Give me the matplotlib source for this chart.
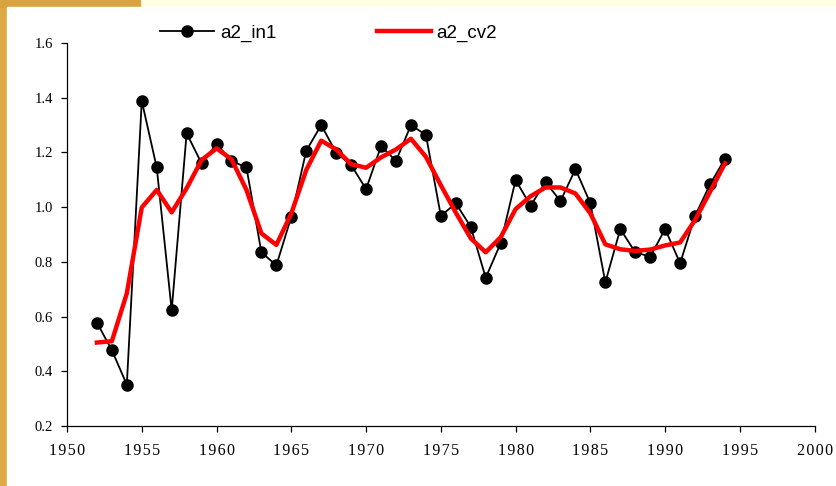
import matplotlib.pyplot as plt
from matplotlib.patches import Rectangle
from matplotlib.ticker import FormatStrFormatter, FuncFormatter, MultipleLocator

years = list(range(1952, 1995))

a2_in1 = [0.578, 0.477, 0.351, 1.388, 1.145, 0.623, 1.270, 1.160, 1.231, 1.169,
          1.145, 0.835, 0.787, 0.965, 1.206, 1.300, 1.199, 1.154, 1.066, 1.223,
          1.169, 1.300, 1.264, 0.968, 1.014, 0.928, 0.742, 0.868, 1.099, 1.005,
          1.092, 1.022, 1.139, 1.014, 0.725, 0.920, 0.835, 0.819, 0.920, 0.795,
          0.968, 1.083, 1.177]

a2_cv2 = [0.505, 0.510, 0.685, 0.999, 1.063, 0.981, 1.069, 1.172, 1.215, 1.175,
          1.063, 0.904, 0.862, 0.977, 1.136, 1.243, 1.211, 1.157, 1.144, 1.182,
          1.211, 1.250, 1.184, 1.080, 0.980, 0.886, 0.835, 0.890, 0.993, 1.040,
          1.072, 1.072, 1.050, 0.977, 0.864, 0.846, 0.840, 0.845, 0.860, 0.871,
          0.953, 1.056, 1.160]

W, H = 837, 486
fig = plt.figure(figsize=(W / 100, H / 100), dpi=100, facecolor='#fffde3')

# background: gold strip on the left and top-left, white panel
fig.patches.append(Rectangle((0, 0), 7 / W, 1, transform=fig.transFigure,
                             color='#dcaa45', zorder=-3))
fig.patches.append(Rectangle((0, 1 - 7 / H), 140 / W, 7 / H, transform=fig.transFigure,
                             color='#d9a440', zorder=-3))
fig.patches.append(Rectangle((7 / W, 0), 1 - 7 / W, 1 - 7 / H, transform=fig.transFigure,
                             color='white', zorder=-2))

ax = fig.add_axes([67 / W, 60 / H, (814.7 - 67) / W, (426 - 43) / H])
ax.set_facecolor('none')

ax.plot(years, a2_in1, color='black', lw=1.3, marker='o', ms=8, label='a2_in1', zorder=2)
ax.plot(years, a2_cv2, color='#ff0000', lw=3.2, label='a2_cv2', zorder=3)

ax.set_xlim(1950, 2000)
ax.set_ylim(0.2, 1.6)
ax.xaxis.set_major_locator(MultipleLocator(5))
ax.yaxis.set_major_locator(MultipleLocator(0.2))
ax.yaxis.set_major_formatter(FormatStrFormatter('%.1f'))
# the years are drawn letter-spaced in the original
ax.xaxis.set_major_formatter(FuncFormatter(lambda v, _: '\u200a'.join(str(int(round(v))))))

for s in ['top', 'right']:
    ax.spines[s].set_visible(False)
for s in ['left', 'bottom']:
    ax.spines[s].set_linewidth(0.9)
ax.tick_params(direction='out', length=4, width=0.9, labelsize=10.5, pad=6)
ax.tick_params(axis='x', labelsize=11.5, pad=8)
for lab in ax.get_xticklabels() + ax.get_yticklabels():
    lab.set_family(['Liberation Serif', 'DejaVu Serif'])

ax.legend(loc='center left', bbox_to_anchor=(160 / W, 1 - 33 / H),
          bbox_transform=fig.transFigure, ncol=2, frameon=False,
          borderpad=0, borderaxespad=0, handlelength=2.9, handletextpad=0.3,
          columnspacing=5.35, prop={'family': 'Liberation Sans', 'size': 13.5})

fig.savefig('out.png', dpi=100, facecolor=fig.get_facecolor())
